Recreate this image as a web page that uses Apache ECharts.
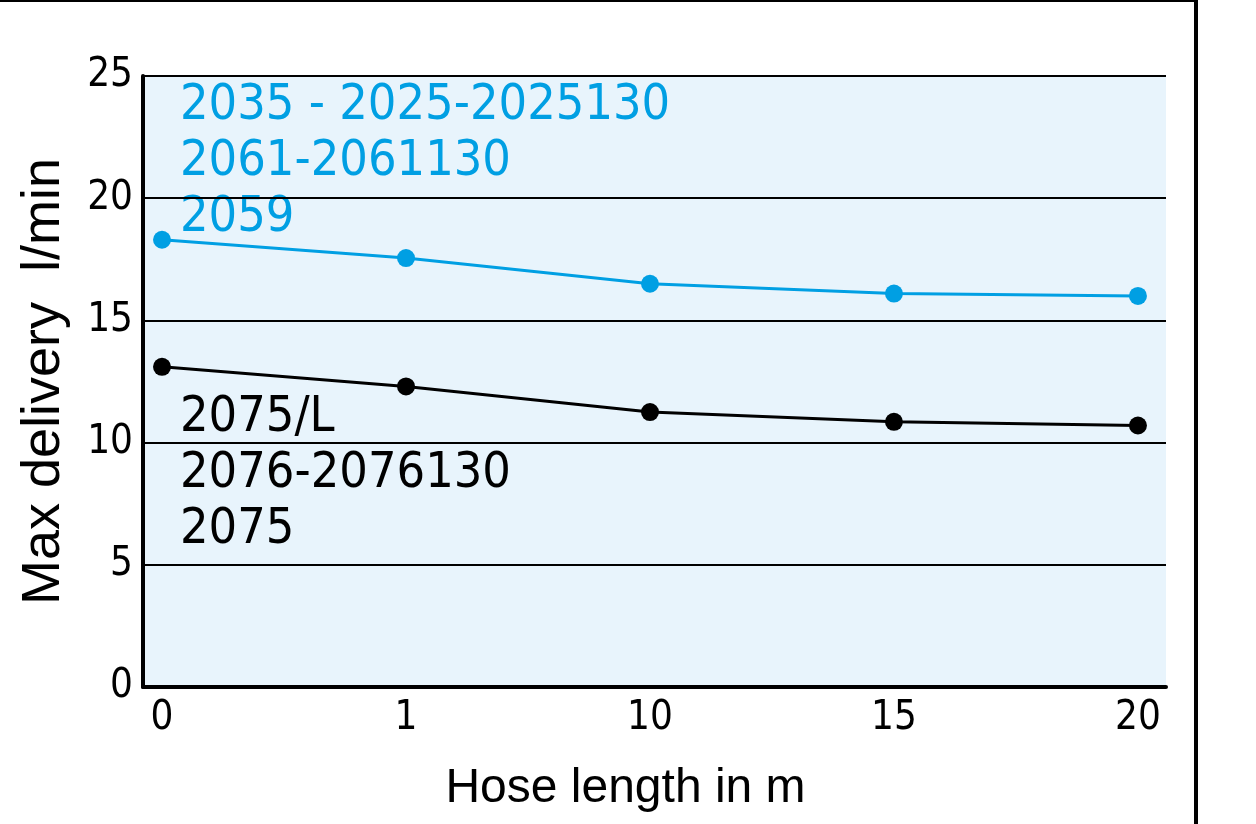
<!DOCTYPE html>
<html>
<head>
<meta charset="utf-8">
<script src="https://cdn.jsdelivr.net/npm/echarts@6/dist/echarts.min.js"></script>
<style>
  html, body { margin: 0; padding: 0; background: #fff; }
  #main { width: 1256px; height: 824px; }
</style>
</head>
<body>
<div id="main"></div>
<script>
// data
const hoseLengths = ['0', '1', '10', '15', '20'];
const blueValues = [18.3, 17.55, 16.5, 16.1, 16.0];
const blackValues = [13.1, 12.3, 11.25, 10.85, 10.7];
const blueLabels = ['2035 - 2025-2025130', '2061-2061130', '2059'];
const blackLabels = ['2075/L', '2076-2076130', '2075'];

const BLUE = '#009fe3';
const FONT = '"DejaVu Sans Condensed", sans-serif';

const Chart = echarts.init(document.getElementById('main'), null, { renderer: 'canvas' });

function toPoints(values) {
    return values.map((v, i) => [i, v]);
}

var option = {
    backgroundColor: '#fff',
    animation: false,
    grid: {
        left: 143,
        right: 90,
        top: 76,
        bottom: 137,
        show: true,
        backgroundColor: '#e8f4fc',
        borderWidth: 0
    },
    xAxis: {
        type: 'value',
        min: -0.078,
        max: 4.115,
        name: 'Hose length in m',
        nameLocation: 'middle',
        nameGap: 78,
        nameTextStyle: {
            fontFamily: '"Liberation Sans", sans-serif',
            fontSize: 48,
            color: '#000',
            padding: [0, 58, 0, 0]
        },
        axisLine: { show: true, onZero: false, lineStyle: { color: '#000', width: 4 } },
        axisTick: { show: false },
        splitLine: { show: false },
        axisLabel: {
            customValues: [0, 1, 2, 3, 4],
            formatter: v => hoseLengths[Math.round(v)],
            fontFamily: FONT,
            fontSize: 40,
            color: '#000',
            margin: 12
        }
    },
    yAxis: {
        type: 'value',
        min: 0,
        max: 25,
        interval: 5,
        name: 'Max delivery  l/min',
        nameLocation: 'middle',
        nameGap: 72,
        nameTextStyle: {
            fontFamily: '"Liberation Sans", sans-serif',
            fontSize: 54,
            color: '#000'
        },
        axisLine: { show: true, onZero: false, lineStyle: { color: '#000', width: 4 } },
        axisTick: { show: false },
        splitLine: { show: true, lineStyle: { color: '#000', width: 2 } },
        axisLabel: {
            fontFamily: FONT,
            fontSize: 40,
            color: '#000',
            margin: 10
        }
    },
    graphic: [
        { type: 'rect', left: 0, top: 0, shape: { width: 1197, height: 2 }, style: { fill: '#000' } },
        { type: 'rect', left: 1194, top: 0, shape: { width: 4, height: 824 }, style: { fill: '#000' } },
        {
            type: 'text', left: 180, top: 78,
            style: { text: blueLabels.join('\n'), fill: BLUE, font: '50px ' + FONT, lineHeight: 56 }
        },
        {
            type: 'text', left: 180, top: 390,
            style: { text: blackLabels.join('\n'), fill: '#000', font: '50px ' + FONT, lineHeight: 56 }
        }
    ],
    series: [{
        type: 'line',
        data: toPoints(blueValues),
        symbol: 'circle',
        symbolSize: 18,
        lineStyle: { color: BLUE, width: 3 },
        itemStyle: { color: BLUE }
    }, {
        type: 'line',
        data: toPoints(blackValues),
        symbol: 'circle',
        symbolSize: 18,
        lineStyle: { color: '#000', width: 3 },
        itemStyle: { color: '#000' }
    }]
};

Chart.setOption(option, true);
</script>
</body>
</html>
